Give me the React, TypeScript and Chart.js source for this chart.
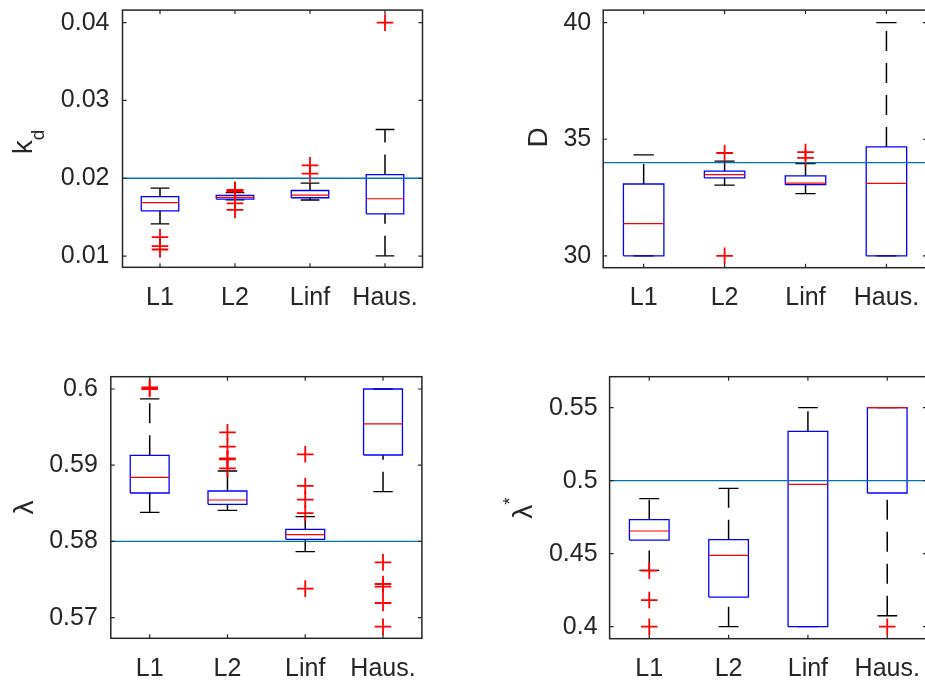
import React, { useEffect, useRef } from 'react';
import { Chart, registerables } from 'chart.js';
Chart.register(...registerables);

const categories = ['L1', 'L2', 'Linf', 'Haus.'];

// Panel 1: k_d
const kdUpper = [0.01873, 0.01815, 0.01937, 0.02627];
const kdQ3 = [0.01763, 0.01779, 0.01843, 0.02047];
const kdMedian = [0.01686, 0.01754, 0.01784, 0.01737];
const kdQ1 = [0.01581, 0.01733, 0.0175, 0.01543];
const kdLower = [0.01415, 0.01723, 0.01721, 0.01004];
const kdOutliers = [
  [0.01245, 0.01127, 0.01085],
  [0.01852, 0.01845, 0.0184, 0.0183, 0.01678, 0.01593],
  [0.02166, 0.02059],
  [0.04],
];
const kdRef = 0.02;
const kdTicks = [0.01, 0.02, 0.03, 0.04];
const kdTickLabels = ['0.01', '0.02', '0.03', '0.04'];
const kdRange = [0.00856, 0.04161];

// Panel 2: D
const dUpper = [34.33, 34.06, 33.96, 40.0];
const dQ3 = [33.08, 33.63, 33.43, 34.67];
const dMedian = [31.38, 33.48, 33.12, 33.11];
const dQ1 = [30.0, 33.34, 33.05, 30.0];
const dLower = [30.0, 33.03, 32.67, 30.0];
const dOutliers = [[], [34.41, 30.0], [34.45, 34.2], []];
const dRef = 34.0;
const dTicks = [30, 35, 40];
const dTickLabels = ['30', '35', '40'];
const dRange = [29.49, 40.54];

// Panel 3: lambda
const lUpper = [0.59869, 0.58924, 0.58325, 0.6];
const lQ3 = [0.5913, 0.58662, 0.58159, 0.6];
const lMedian = [0.5884, 0.58544, 0.58089, 0.59541];
const lQ1 = [0.58636, 0.58487, 0.58028, 0.59134];
const lLower = [0.58382, 0.58408, 0.57866, 0.58653];
const lOutliers = [
  [0.6, 0.6002],
  [0.59432, 0.59244, 0.5909, 0.59077, 0.58959],
  [0.59143, 0.58728, 0.58548, 0.58373, 0.57381],
  [0.57726, 0.57442, 0.57407, 0.57193, 0.56882],
];
const lRef = 0.58;
const lTicks = [0.57, 0.58, 0.59, 0.6];
const lTickLabels = ['0.57', '0.58', '0.59', '0.6'];
const lRange = [0.5673, 0.60161];

// Panel 4: lambda*
const sUpper = [0.48767, 0.49475, 0.55, 0.55];
const sQ3 = [0.4733, 0.45959, 0.5338, 0.55];
const sMedian = [0.46553, 0.44886, 0.49749, 0.55];
const sQ1 = [0.45936, 0.42032, 0.4, 0.49155];
const sLower = [0.43858, 0.4, 0.4, 0.40753];
const sOutliers = [[0.4384, 0.41826, 0.4], [], [], [0.4]];
const sRef = 0.5;
const sTicks = [0.4, 0.45, 0.5, 0.55];
const sTickLabels = ['0.4', '0.45', '0.5', '0.55'];
const sRange = [0.3918, 0.5712];

const FONT = '"Liberation Sans", Arial, Helvetica, sans-serif';
const AXIS = '#262626';

type Stats = {
  upper: number[]; q3: number[]; median: number[]; q1: number[]; lower: number[];
  outliers: number[][]; ref: number; ticks: number[]; tickLabels: string[]; range: number[];
};

type Part = { text: string; size: number; shift: number };

type PanelDef = {
  stats: Stats;
  canvas: { left: number; top: number; width: number; height: number };
  area: { l: number; t: number; r: number; b: number };
  tickPad: number;
  title: Part[];
  titleX: number;
  titleY: number;
};

const panels: PanelDef[] = [
  {
    stats: { upper: kdUpper, q3: kdQ3, median: kdMedian, q1: kdQ1, lower: kdLower, outliers: kdOutliers, ref: kdRef, ticks: kdTicks, tickLabels: kdTickLabels, range: kdRange },
    canvas: { left: 0, top: 0, width: 462, height: 340 },
    area: { l: 122.5, t: 7.3, r: 422.5, b: 267.3 },
    tickPad: 13,
    title: [{ text: 'k', size: 28, shift: 0 }, { text: 'd', size: 19, shift: 12 }],
    titleX: 31.7, titleY: 142,
  },
  {
    stats: { upper: dUpper, q3: dQ3, median: dMedian, q1: dQ1, lower: dLower, outliers: dOutliers, ref: dRef, ticks: dTicks, tickLabels: dTickLabels, range: dRange },
    canvas: { left: 462, top: 0, width: 475, height: 340 },
    area: { l: 603.2, t: 7.3, r: 929.4, b: 267.7 },
    tickPad: 12,
    title: [{ text: 'D', size: 28, shift: 0 }],
    titleX: 547, titleY: 137.5,
  },
  {
    stats: { upper: lUpper, q3: lQ3, median: lMedian, q1: lQ1, lower: lLower, outliers: lOutliers, ref: lRef, ticks: lTicks, tickLabels: lTickLabels, range: lRange },
    canvas: { left: 0, top: 340, width: 462, height: 343 },
    area: { l: 110.8, t: 376.7, r: 421.9, b: 638.3 },
    tickPad: 13,
    title: [{ text: 'λ', size: 28, shift: 0 }],
    titleX: 33.3, titleY: 507.5,
  },
  {
    stats: { upper: sUpper, q3: sQ3, median: sMedian, q1: sQ1, lower: sLower, outliers: sOutliers, ref: sRef, ticks: sTicks, tickLabels: sTickLabels, range: sRange },
    canvas: { left: 462, top: 340, width: 475, height: 343 },
    area: { l: 609.6, t: 376.7, r: 927, b: 638.7 },
    tickPad: 12,
    title: [{ text: 'λ', size: 28, shift: 0 }, { text: '*', size: 19, shift: -16 }],
    titleX: 532, titleY: 508,
  },
];

function buildDatasets(s: Stats) {
  const outlierPts: any[] = [];
  s.outliers.forEach((arr, i) => arr.forEach((v) => outlierPts.push({ x: i + 1, y: v })));
  const med: any[] = [];
  const box: any[] = [];
  const whisk: any[] = [];
  const caps: any[] = [];
  categories.forEach((_, i) => {
    const x = i + 1;
    med.push({ x: x - 0.25, y: s.median[i] }, { x: x + 0.25, y: s.median[i] }, { x, y: null });
    box.push(
      { x: x - 0.25, y: s.q1[i] }, { x: x + 0.25, y: s.q1[i] }, { x: x + 0.25, y: s.q3[i] },
      { x: x - 0.25, y: s.q3[i] }, { x: x - 0.25, y: s.q1[i] }, { x, y: null }
    );
    whisk.push({ x, y: s.lower[i] }, { x, y: s.q1[i] }, { x, y: null }, { x, y: s.q3[i] }, { x, y: s.upper[i] }, { x, y: null });
    caps.push(
      { x: x - 0.125, y: s.upper[i] }, { x: x + 0.125, y: s.upper[i] }, { x, y: null },
      { x: x - 0.125, y: s.lower[i] }, { x: x + 0.125, y: s.lower[i] }, { x, y: null }
    );
  });
  const lineBase = { showLine: true, pointRadius: 0, pointHitRadius: 0, spanGaps: false, tension: 0, fill: false };
  return [
    { ...lineBase, label: 'ref', data: [{ x: 0.5, y: s.ref }, { x: 4.5, y: s.ref }], borderColor: '#0072BD', borderWidth: 1.3 },
    {
      label: 'outliers', data: outlierPts, showLine: false, pointStyle: 'cross', pointRadius: 8.3,
      pointBorderColor: '#FF0000', borderColor: '#FF0000', pointBorderWidth: 1.8, pointBackgroundColor: '#FF0000',
    },
    { ...lineBase, label: 'median', data: med, borderColor: '#FF0000', borderWidth: 1.2 },
    { ...lineBase, label: 'box', data: box, borderColor: '#0000FF', borderWidth: 1.3 },
    { ...lineBase, label: 'caps', data: caps, borderColor: '#000000', borderWidth: 1.3 },
    { ...lineBase, label: 'whiskers', data: whisk, borderColor: '#000000', borderWidth: 1.5, borderDash: [20, 12] },
  ];
}

function Panel({ def }: { def: PanelDef }) {
  const ref = useRef<HTMLCanvasElement | null>(null);
  useEffect(() => {
    const c = def.canvas;
    const yWidth = def.area.l - c.left;
    const padTop = def.area.t - c.top;
    const padRight = c.left + c.width - def.area.r;
    const xHeight = c.top + c.height - def.area.b;
    const s = def.stats;

    const framePlugin = {
      id: 'frame',
      afterDatasetsDraw(chart: any) {
        const { ctx, chartArea: a, scales } = chart;
        const xs = scales.x;
        const ys = scales.y;
        ctx.save();
        ctx.strokeStyle = AXIS;
        ctx.lineWidth = 1.5;
        ctx.setLineDash([]);
        ctx.strokeRect(a.left, a.top, a.right - a.left, a.bottom - a.top);
        ctx.lineWidth = 1.2;
        const tl = 4;
        ctx.beginPath();
        xs.ticks.forEach((t: any) => {
          const px = xs.getPixelForValue(t.value);
          ctx.moveTo(px, a.bottom); ctx.lineTo(px, a.bottom - tl);
          ctx.moveTo(px, a.top); ctx.lineTo(px, a.top + tl);
        });
        ys.ticks.forEach((t: any) => {
          const py = ys.getPixelForValue(t.value);
          ctx.moveTo(a.left, py); ctx.lineTo(a.left + tl, py);
          ctx.moveTo(a.right, py); ctx.lineTo(a.right - tl, py);
        });
        ctx.stroke();
        // y title
        ctx.translate(def.titleX - c.left, def.titleY - c.top);
        ctx.rotate(-Math.PI / 2);
        ctx.fillStyle = AXIS;
        ctx.textBaseline = 'alphabetic';
        ctx.textAlign = 'left';
        let total = 0;
        const widths = def.title.map((p) => {
          ctx.font = `${p.size}px ${FONT}`;
          const w = ctx.measureText(p.text).width;
          total += w;
          return w;
        });
        let cur = -total / 2;
        def.title.forEach((p, i) => {
          ctx.font = `${p.size}px ${FONT}`;
          ctx.fillText(p.text, cur, p.shift);
          cur += widths[i];
        });
        ctx.restore();
      },
    };

    const chart = new Chart(ref.current as HTMLCanvasElement, {
      type: 'scatter',
      data: { datasets: buildDatasets(s) as any },
      options: {
        animation: false,
        responsive: false,
        devicePixelRatio: 1,
        events: [],
        layout: { padding: { left: 0, top: padTop, right: padRight, bottom: 0 } },
        plugins: { legend: { display: false }, tooltip: { enabled: false } },
        scales: {
          x: {
            type: 'linear',
            min: 0.5,
            max: 4.5,
            grid: { display: false, drawTicks: false },
            border: { display: false },
            afterBuildTicks: (axis: any) => { axis.ticks = categories.map((_, i) => ({ value: i + 1 })); },
            afterFit: (axis: any) => { axis.height = xHeight; axis.paddingLeft = 0; axis.paddingRight = 0; },
            ticks: {
              autoSkip: false,
              maxRotation: 0,
              minRotation: 0,
              padding: 15.5,
              color: AXIS,
              font: { family: FONT, size: 25 },
              callback: (_v: any, i: number) => categories[i],
            },
          },
          y: {
            type: 'linear',
            min: s.range[0],
            max: s.range[1],
            grid: { display: false, drawTicks: false },
            border: { display: false },
            afterBuildTicks: (axis: any) => { axis.ticks = s.ticks.map((v) => ({ value: v })); },
            afterFit: (axis: any) => { axis.width = yWidth; axis.paddingTop = 0; axis.paddingBottom = 0; },
            ticks: {
              autoSkip: false,
              padding: def.tickPad,
              color: AXIS,
              font: { family: FONT, size: 25 },
              callback: (_v: any, i: number) => s.tickLabels[i],
            },
          },
        },
      } as any,
      plugins: [framePlugin],
    });
    return () => chart.destroy();
  }, [def]);

  const c = def.canvas;
  return (
    <canvas
      ref={ref}
      width={c.width}
      height={c.height}
      style={{ position: 'absolute', left: c.left, top: c.top, width: c.width, height: c.height }}
    />
  );
}

export default function App() {
  useEffect(() => {
    document.body.style.margin = '0';
    document.body.style.overflow = 'hidden';
  }, []);
  return (
    <div style={{ position: 'fixed', left: 0, top: 0, width: 925, height: 683, overflow: 'hidden', background: '#ffffff' }}>
      {panels.map((p, i) => (
        <Panel key={i} def={p} />
      ))}
    </div>
  );
}
